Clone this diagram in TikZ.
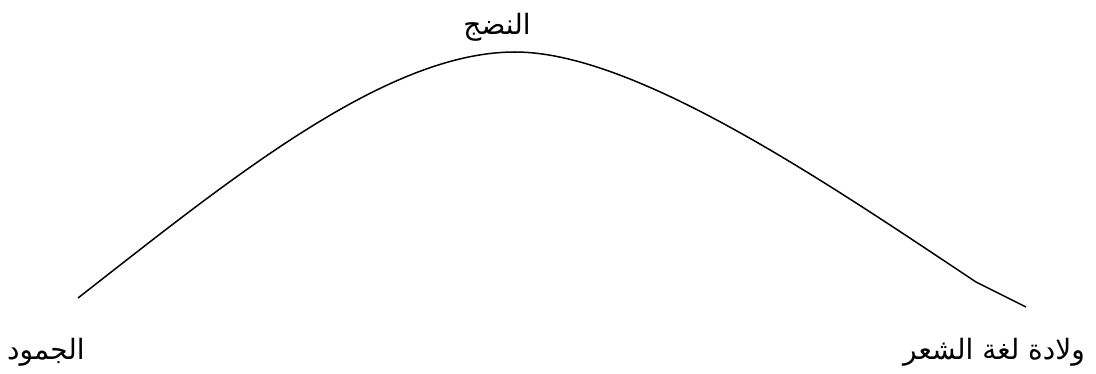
\documentclass[tikz,border=0pt]{standalone}
\usepackage{fontspec}
\newfontfamily\arabicfont[Script=Arabic]{DejaVu Sans}
\TeXXeTstate=1
\begin{document}
\begin{tikzpicture}[x=1pt,y=-1pt,
  lbl/.style={inner sep=0pt, font=\arabicfont\fontsize{28}{32}\selectfont},
  curve/.style={line width=1.5pt, black}]
\useasboundingbox (0,0) rectangle (1096,374);
\node[lbl] (top) at (497,27) {\beginR النضج\endR};
\node[lbl] (left) at (46,352) {\beginR الجمود\endR};
\node[lbl] (right) at (994,352) {\beginR ولادة لغة الشعر\endR};
\coordinate (s) at (78,298);
\coordinate (p) at (515,52);
\coordinate (k) at (976,282);
\coordinate (e) at (1026,307);
\draw[curve] (s) .. controls (228,181) and (385,52) .. (p)
  .. controls (635,52) and (825,181.5) .. (k) -- (e);
\end{tikzpicture}
\end{document}
